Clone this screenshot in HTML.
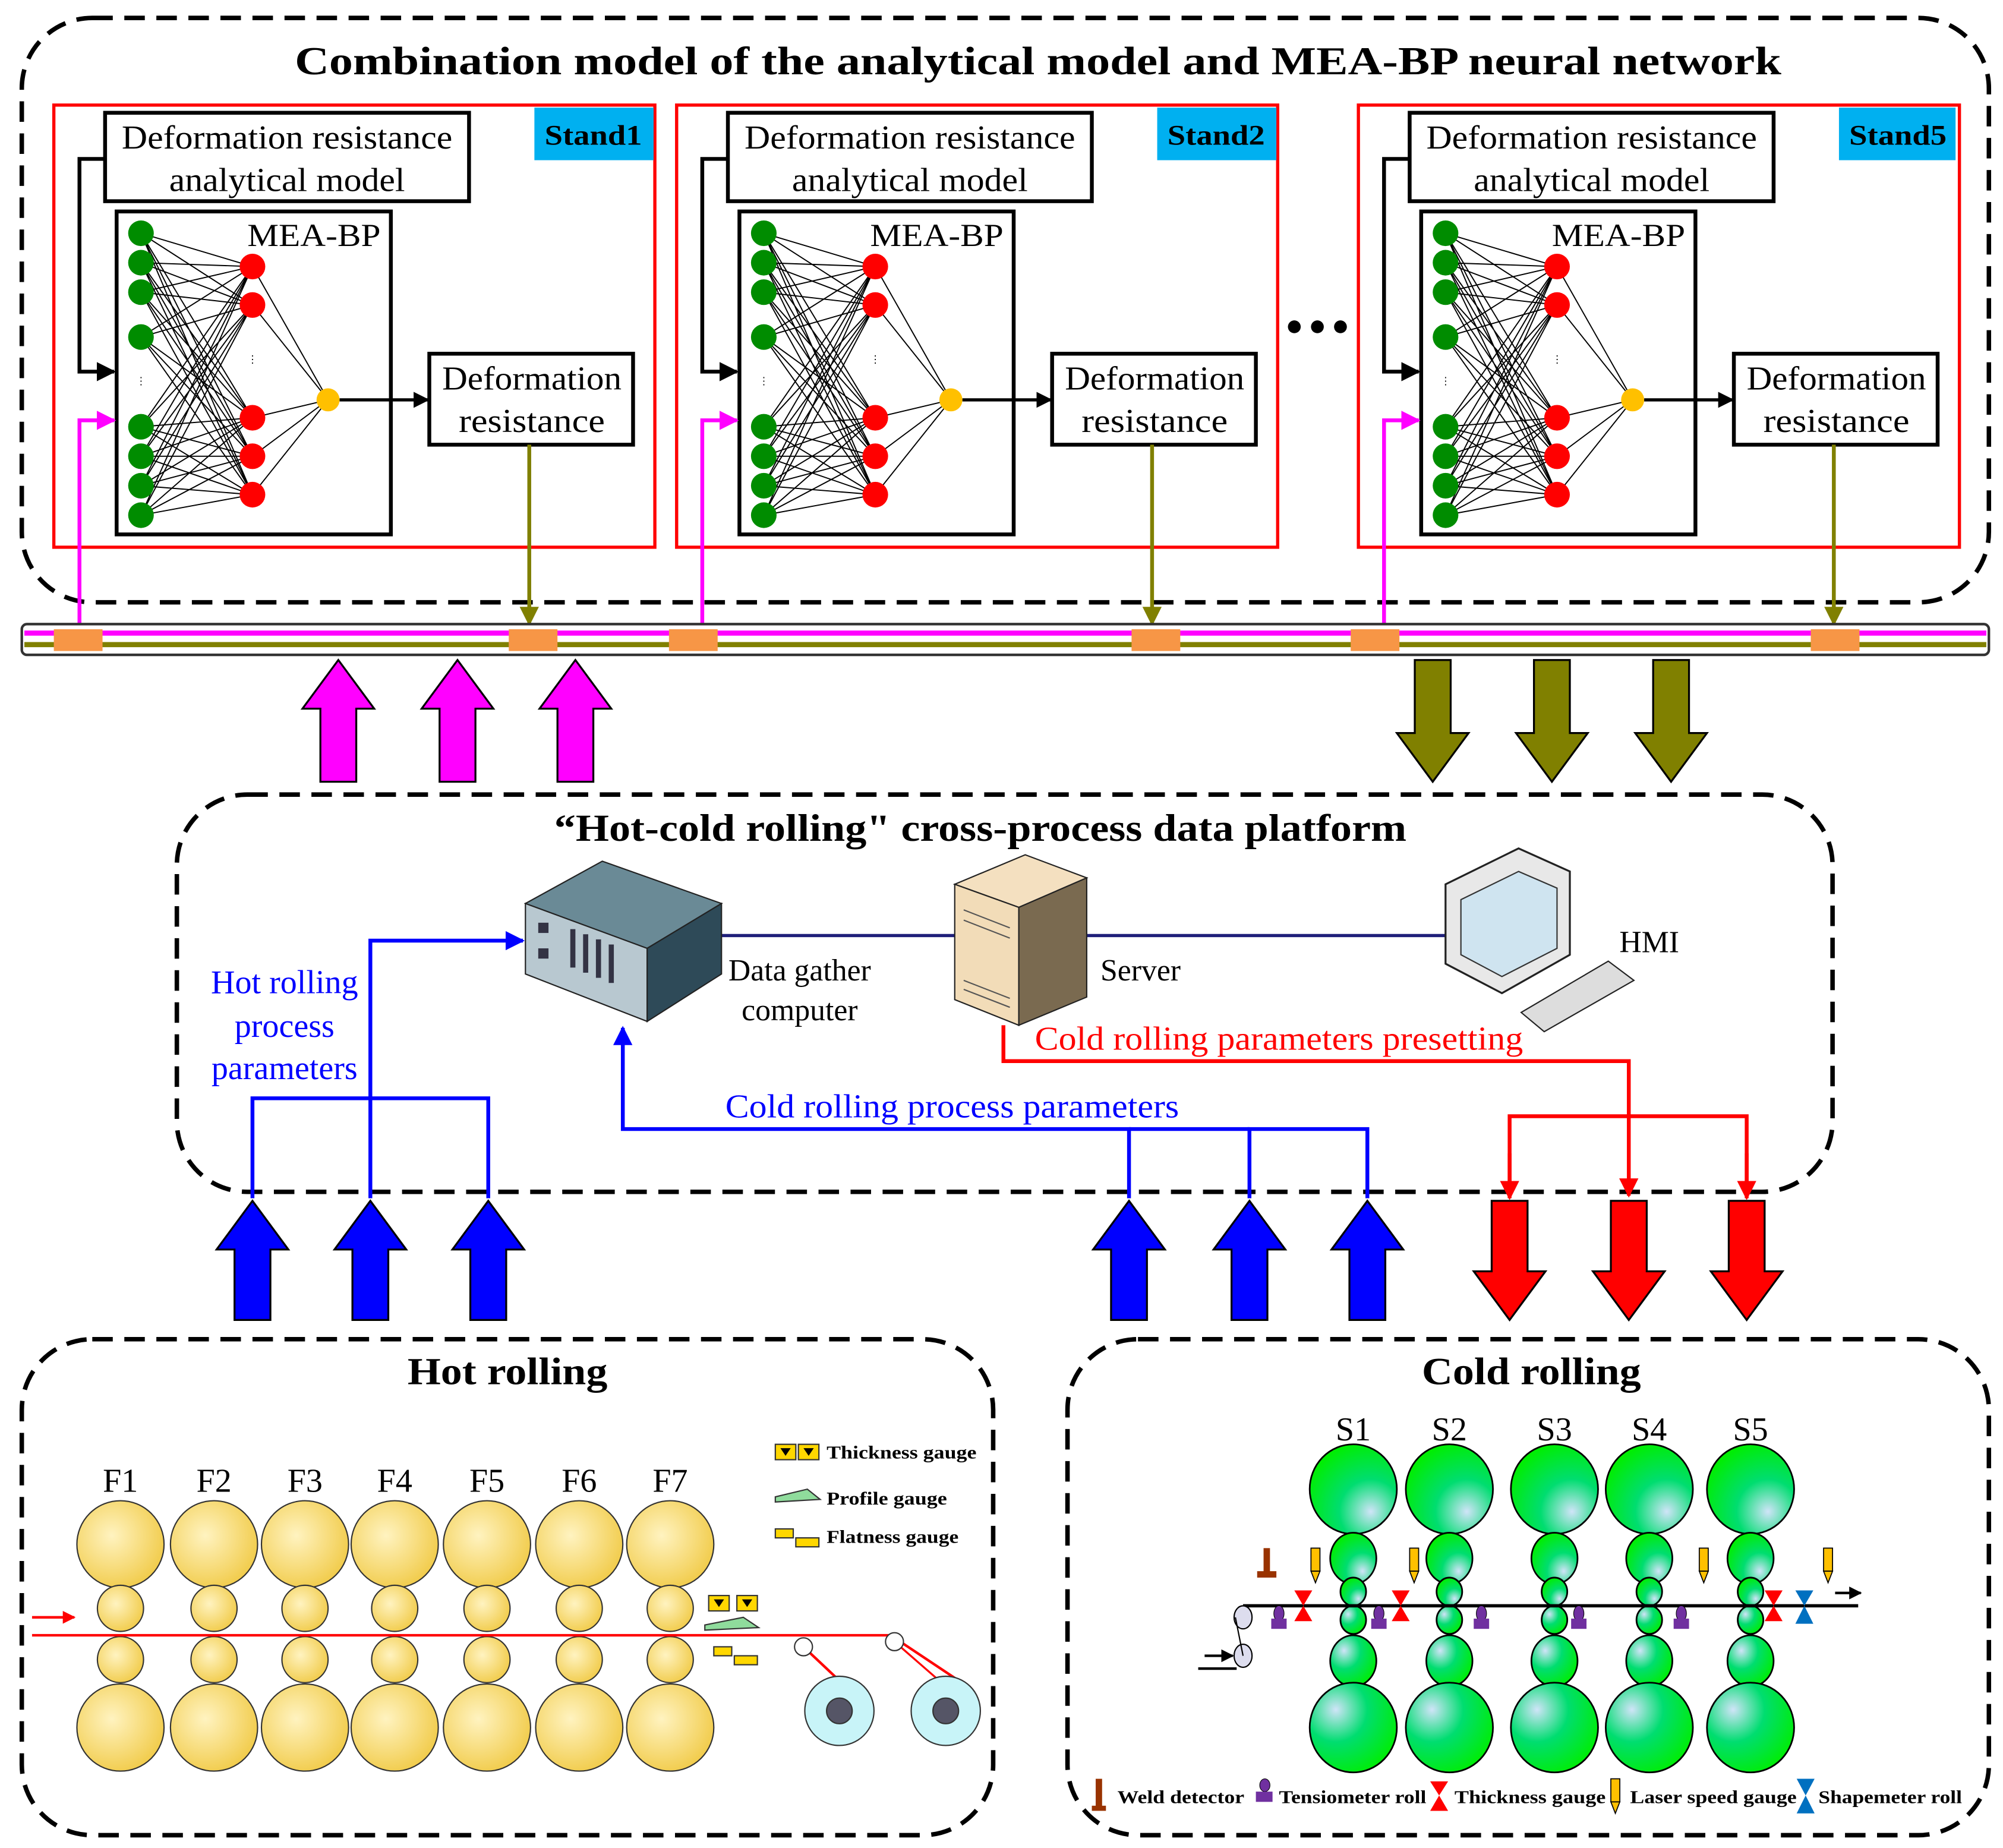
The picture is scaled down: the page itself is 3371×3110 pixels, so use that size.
<!DOCTYPE html>
<html><head><meta charset="utf-8"><style>html,body{margin:0;padding:0;background:#fff}svg{display:block}</style></head><body>
<svg width="3371" height="3110" viewBox="0 0 1563 1442" xmlns="http://www.w3.org/2000/svg" font-family="Liberation Serif, serif">
<defs>
<marker id="ak" viewBox="0 0 10 10" refX="9" refY="5" markerWidth="5" markerHeight="5" orient="auto"><path d="M0,0L10,5L0,10z" fill="#000"/></marker>
<marker id="am" viewBox="0 0 10 10" refX="9" refY="5" markerWidth="5" markerHeight="5" orient="auto"><path d="M0,0L10,5L0,10z" fill="#f0f"/></marker>
<marker id="ao" viewBox="0 0 10 10" refX="9" refY="5" markerWidth="5" markerHeight="5" orient="auto"><path d="M0,0L10,5L0,10z" fill="#808000"/></marker>
<marker id="ab" viewBox="0 0 10 10" refX="9" refY="5" markerWidth="5" markerHeight="5" orient="auto"><path d="M0,0L10,5L0,10z" fill="#00f"/></marker>
<marker id="ar" viewBox="0 0 10 10" refX="9" refY="5" markerWidth="5" markerHeight="5" orient="auto"><path d="M0,0L10,5L0,10z" fill="#f00"/></marker>
<radialGradient id="gy" cx="0.4" cy="0.4" r="0.7"><stop offset="0" stop-color="#fff3c0"/><stop offset="1" stop-color="#f0c840"/></radialGradient>
<radialGradient id="gg" cx="0.7" cy="0.75" r="0.8"><stop offset="0" stop-color="#d0e4f8"/><stop offset="0.45" stop-color="#00dd70"/><stop offset="1" stop-color="#00ee00"/></radialGradient>
<radialGradient id="gg2" cx="0.3" cy="0.3" r="0.8"><stop offset="0" stop-color="#d0e4f8"/><stop offset="0.45" stop-color="#00dd70"/><stop offset="1" stop-color="#00ee00"/></radialGradient>
<g id="stand">
<rect x="42" y="82" width="469" height="345" fill="none" stroke="#f00" stroke-width="2.5"/>
<rect x="82" y="88" width="284" height="69" fill="#fff" stroke="#000" stroke-width="3"/>
<text x="224" y="116" font-size="26" text-anchor="middle" textLength="258" lengthAdjust="spacingAndGlyphs">Deformation resistance</text>
<text x="224" y="149" font-size="26" text-anchor="middle" textLength="184" lengthAdjust="spacingAndGlyphs">analytical model</text>
<rect x="91" y="165" width="214" height="252" fill="#fff" stroke="#000" stroke-width="3"/>
<text x="245" y="192" font-size="25" text-anchor="middle" textLength="104" lengthAdjust="spacingAndGlyphs">MEA-BP</text>
<g stroke="#000" stroke-width="0.9">
<path d="M110,182L197,208M110,182L197,238M110,182L197,326M110,182L197,356M110,182L197,386M110,205L197,208M110,205L197,238M110,205L197,326M110,205L197,356M110,205L197,386M110,228L197,208M110,228L197,238M110,228L197,326M110,228L197,356M110,228L197,386M110,263L197,208M110,263L197,238M110,263L197,326M110,263L197,356M110,263L197,386M110,333L197,208M110,333L197,238M110,333L197,326M110,333L197,356M110,333L197,386M110,356L197,208M110,356L197,238M110,356L197,326M110,356L197,356M110,356L197,386M110,379L197,208M110,379L197,238M110,379L197,326M110,379L197,356M110,379L197,386M110,402L197,208M110,402L197,238M110,402L197,326M110,402L197,356M110,402L197,386M197,208L256,312M197,238L256,312M197,326L256,312M197,356L256,312M197,386L256,312"/>
</g>
<g fill="#008c00"><circle cx="110" cy="182" r="10"/><circle cx="110" cy="205" r="10"/><circle cx="110" cy="228" r="10"/><circle cx="110" cy="263" r="10"/><circle cx="110" cy="333" r="10"/><circle cx="110" cy="356" r="10"/><circle cx="110" cy="379" r="10"/><circle cx="110" cy="402" r="10"/></g>
<g fill="#f00"><circle cx="197" cy="208" r="10"/><circle cx="197" cy="238" r="10"/><circle cx="197" cy="326" r="10"/><circle cx="197" cy="356" r="10"/><circle cx="197" cy="386" r="10"/></g>
<circle cx="256" cy="312" r="9" fill="#ffc000"/>
<text x="110" y="300" font-size="8" text-anchor="middle">⋮</text><text x="197" y="283" font-size="8" text-anchor="middle">⋮</text>
<line x1="265" y1="312" x2="334" y2="312" stroke="#000" stroke-width="2.5" marker-end="url(#ak)"/>
<rect x="335" y="276" width="159" height="71" fill="#fff" stroke="#000" stroke-width="3"/>
<text x="415" y="304" font-size="26" text-anchor="middle" textLength="140" lengthAdjust="spacingAndGlyphs">Deformation</text>
<text x="415" y="337" font-size="26" text-anchor="middle" textLength="114" lengthAdjust="spacingAndGlyphs">resistance</text>
<polyline points="82,124 62,124 62,290 89,290" fill="none" stroke="#000" stroke-width="3" marker-end="url(#ak)"/>
<polyline points="62,490 62,328 89,328" fill="none" stroke="#f0f" stroke-width="3" marker-end="url(#am)"/>
<line x1="413" y1="347" x2="413" y2="487" stroke="#808000" stroke-width="3" marker-end="url(#ao)"/>
</g>
</defs>
<rect x="17" y="14" width="1535" height="456" rx="55" fill="none" stroke="#000" stroke-width="3.5" stroke-dasharray="16,9"/>
<text x="810" y="58" font-size="31" font-weight="bold" text-anchor="middle" textLength="1160" lengthAdjust="spacingAndGlyphs">Combination model of the analytical model and MEA-BP neural network</text>
<use href="#stand"/>
<use href="#stand" x="486"/>
<use href="#stand" x="1018"/>
<rect x="417" y="84" width="93" height="41" fill="#00b0f0"/><text x="463" y="113" font-size="22" font-weight="bold" text-anchor="middle" textLength="76" lengthAdjust="spacingAndGlyphs">Stand1</text>
<rect x="903" y="84" width="93" height="41" fill="#00b0f0"/><text x="949" y="113" font-size="22" font-weight="bold" text-anchor="middle" textLength="76" lengthAdjust="spacingAndGlyphs">Stand2</text>
<rect x="1435" y="84" width="91" height="41" fill="#00b0f0"/><text x="1481" y="113" font-size="22" font-weight="bold" text-anchor="middle" textLength="76" lengthAdjust="spacingAndGlyphs">Stand5</text>
<g fill="#000"><circle cx="1010" cy="255" r="5"/><circle cx="1028" cy="255" r="5"/><circle cx="1046" cy="255" r="5"/></g>
<rect x="17" y="487" width="1535" height="24" rx="4" fill="#fff" stroke="#333" stroke-width="2"/>
<line x1="19" y1="494" x2="1550" y2="494" stroke="#f0f" stroke-width="4"/>
<line x1="19" y1="503" x2="1550" y2="503" stroke="#808000" stroke-width="4"/>
<g fill="#f79646"><rect x="42" y="491" width="38" height="17"/><rect x="397" y="491" width="38" height="17"/><rect x="522" y="491" width="38" height="17"/><rect x="883" y="491" width="38" height="17"/><rect x="1054" y="491" width="38" height="17"/><rect x="1413" y="491" width="38" height="17"/></g>
<g stroke="#000" stroke-width="1.5">
<path fill="#f0f" d="M250,610V553H236L264,515L292,553H278V610Z"/>
<path fill="#f0f" d="M343,610V553H329L357,515L385,553H371V610Z"/>
<path fill="#f0f" d="M435,610V553H421L449,515L477,553H463V610Z"/>
<path fill="#808000" d="M1104,515V572H1090L1118,610L1146,572H1132V515Z"/>
<path fill="#808000" d="M1197,515V572H1183L1211,610L1239,572H1225V515Z"/>
<path fill="#808000" d="M1290,515V572H1276L1304,610L1332,572H1318V515Z"/>
<path fill="#00f" d="M183,1030V975H169L197,937L225,975H211V1030Z"/>
<path fill="#00f" d="M275,1030V975H261L289,937L317,975H303V1030Z"/>
<path fill="#00f" d="M367,1030V975H353L381,937L409,975H395V1030Z"/>
<path fill="#00f" d="M867,1030V975H853L881,937L909,975H895V1030Z"/>
<path fill="#00f" d="M961,1030V975H947L975,937L1003,975H989V1030Z"/>
<path fill="#00f" d="M1053,1030V975H1039L1067,937L1095,975H1081V1030Z"/>
<path fill="#f00" d="M1164,937V992H1150L1178,1030L1206,992H1192V937Z"/>
<path fill="#f00" d="M1257,937V992H1243L1271,1030L1299,992H1285V937Z"/>
<path fill="#f00" d="M1349,937V992H1335L1363,1030L1391,992H1377V937Z"/>
</g>
<rect x="138" y="620" width="1292" height="310" rx="55" fill="none" stroke="#000" stroke-width="3.5" stroke-dasharray="16,9"/>
<text x="765" y="656" font-size="30" font-weight="bold" text-anchor="middle" textLength="665" lengthAdjust="spacingAndGlyphs">“Hot-cold rolling" cross-process data platform</text>
<line x1="563" y1="730" x2="745" y2="730" stroke="#1f1f7a" stroke-width="2.5"/>
<line x1="848" y1="730" x2="1128" y2="730" stroke="#1f1f7a" stroke-width="2.5"/>
<polygon points="410,705 470,672 563,705 505,740" fill="#6a8a96" stroke="#222"/>
<polygon points="410,705 505,740 505,797 410,760" fill="#b8c8d0" stroke="#222"/>
<polygon points="505,740 563,705 563,760 505,797" fill="#2e4a58" stroke="#222"/>
<g fill="#334"><rect x="420" y="720" width="8" height="8"/><rect x="420" y="740" width="8" height="8"/><rect x="445" y="725" width="4" height="30"/><rect x="455" y="729" width="4" height="30"/><rect x="465" y="733" width="4" height="30"/><rect x="475" y="737" width="4" height="30"/></g>
<text x="624" y="765" font-size="24" text-anchor="middle">Data gather</text>
<text x="624" y="796" font-size="24" text-anchor="middle">computer</text>
<polygon points="745,690 800,667 848,685 795,708" fill="#f4e0c0" stroke="#222"/>
<polygon points="745,690 795,708 795,800 745,780" fill="#f2dcb8" stroke="#222"/>
<polygon points="795,708 848,685 848,778 795,800" fill="#7a6a50" stroke="#222"/>
<g stroke="#555"><line x1="752" y1="710" x2="788" y2="724"/><line x1="752" y1="718" x2="788" y2="732"/><line x1="752" y1="765" x2="788" y2="779"/><line x1="752" y1="772" x2="788" y2="786"/></g>
<text x="890" y="765" font-size="24" text-anchor="middle">Server</text>
<polygon points="1128,690 1185,662 1225,680 1225,745 1172,775 1128,752" fill="#e8e8e8" stroke="#222" stroke-width="1.5"/>
<polygon points="1140,702 1185,680 1215,693 1215,740 1172,762 1140,745" fill="#cfe4f0" stroke="#333"/>
<polygon points="1187,790 1255,750 1275,765 1205,805" fill="#ddd" stroke="#222"/>
<text x="1287" y="743" font-size="24" text-anchor="middle">HMI</text>
<text font-size="26" fill="#00f" text-anchor="middle"><tspan x="222" y="775">Hot rolling</tspan><tspan x="222" y="809">process</tspan><tspan x="222" y="842">parameters</tspan></text>
<text x="998" y="819" font-size="26" fill="#f00" text-anchor="middle" textLength="381" lengthAdjust="spacingAndGlyphs">Cold rolling  parameters presetting</text>
<text x="743" y="872" font-size="26" fill="#00f" text-anchor="middle" textLength="354" lengthAdjust="spacingAndGlyphs">Cold rolling  process parameters</text>
<g fill="none" stroke="#00f" stroke-width="3">
<polyline points="197,935 197,857 381,857 381,935"/>
<polyline points="289,935 289,734 408,734" marker-end="url(#ab)"/>
<polyline points="881,935 881,881 486,881 486,802" marker-end="url(#ab)"/>
<polyline points="881,881 975,881"/>
<polyline points="975,935 975,881 1067,881 1067,935"/>
</g>
<g fill="none" stroke="#f00" stroke-width="3">
<polyline points="783,800 783,828 1271,828 1271,933" marker-end="url(#ar)"/>
<polyline points="1178,933 1178,871 1363,871 1363,933"/>
<line x1="1178" y1="900" x2="1178" y2="935" marker-end="url(#ar)"/>
<line x1="1363" y1="900" x2="1363" y2="935" marker-end="url(#ar)"/>
</g>
<rect x="17" y="1045" width="758" height="387" rx="55" fill="none" stroke="#000" stroke-width="3.5" stroke-dasharray="16,9"/>
<text x="396" y="1080" font-size="30" font-weight="bold" text-anchor="middle" textLength="156" lengthAdjust="spacingAndGlyphs">Hot rolling</text>
<g stroke="#333" stroke-width="1" fill="url(#gy)">
<g id="hs"><ellipse cx="94" cy="1205" rx="34" ry="34"/><ellipse cx="94" cy="1255" rx="18" ry="18"/><ellipse cx="94" cy="1295" rx="18" ry="18"/><ellipse cx="94" cy="1348" rx="34" ry="34"/></g>
<use href="#hs" x="73"/><use href="#hs" x="144"/><use href="#hs" x="214"/><use href="#hs" x="286"/><use href="#hs" x="358"/><use href="#hs" x="429"/>
</g>
<g font-size="26" text-anchor="middle"><text x="94" y="1164">F1</text><text x="167" y="1164">F2</text><text x="238" y="1164">F3</text><text x="308" y="1164">F4</text><text x="380" y="1164">F5</text><text x="452" y="1164">F6</text><text x="523" y="1164">F7</text></g>
<polyline points="25,1276 695,1276 758,1318" fill="none" stroke="#f00" stroke-width="2"/>
<polyline points="627,1285 680,1335" fill="none" stroke="#f00" stroke-width="2"/>
<polyline points="698,1281 760,1335" fill="none" stroke="#f00" stroke-width="1.5"/>
<line x1="25" y1="1262" x2="58" y2="1262" stroke="#f00" stroke-width="2" marker-end="url(#ar)"/>
<circle cx="627" cy="1285" r="7" fill="#fff" stroke="#333"/><circle cx="698" cy="1281" r="7" fill="#fff" stroke="#333"/>
<g stroke="#333"><circle cx="655" cy="1335" r="27" fill="#c8f4f8"/><circle cx="655" cy="1335" r="10" fill="#556"/><circle cx="738" cy="1335" r="27" fill="#c8f4f8"/><circle cx="738" cy="1335" r="10" fill="#556"/></g>
<g fill="#ffd700" stroke="#333"><rect x="553" y="1245" width="16" height="12"/><rect x="575" y="1245" width="16" height="12"/><rect x="605" y="1127" width="16" height="12"/><rect x="623" y="1127" width="16" height="12"/><rect x="557" y="1285" width="14" height="7"/><rect x="573" y="1292" width="18" height="7"/><rect x="605" y="1193" width="14" height="7"/><rect x="621" y="1200" width="18" height="7"/></g>
<g fill="#000"><path d="M557,1248L565,1248L561,1254Z"/><path d="M579,1248L587,1248L583,1254Z"/><path d="M609,1130L617,1130L613,1136Z"/><path d="M627,1130L635,1130L631,1136Z"/></g>
<path d="M550,1268L580,1262L592,1270L550,1272Z" fill="#8fdc9c" stroke="#333"/>
<path d="M605,1168L630,1162L640,1170L605,1172Z" fill="#8fdc9c" stroke="#333"/>
<g font-size="14" font-weight="bold"><text x="645" y="1138" textLength="117" lengthAdjust="spacingAndGlyphs">Thickness  gauge</text><text x="645" y="1174" textLength="94" lengthAdjust="spacingAndGlyphs">Profile  gauge</text><text x="645" y="1204" textLength="103" lengthAdjust="spacingAndGlyphs">Flatness  gauge</text></g>
<rect x="833" y="1045" width="719" height="387" rx="55" fill="none" stroke="#000" stroke-width="3.5" stroke-dasharray="16,9"/>
<text x="1195" y="1080" font-size="30" font-weight="bold" text-anchor="middle" textLength="171" lengthAdjust="spacingAndGlyphs">Cold rolling</text>
<g font-size="26" text-anchor="middle"><text x="1056" y="1124">S1</text><text x="1131" y="1124">S2</text><text x="1213" y="1124">S3</text><text x="1287" y="1124">S4</text><text x="1366" y="1124">S5</text></g>
<g stroke="#000" stroke-width="1.3">
<g id="cs"><ellipse cx="1056" cy="1162" rx="34" ry="35" fill="url(#gg)"/><ellipse cx="1056" cy="1216" rx="18" ry="20" fill="url(#gg)"/><ellipse cx="1056" cy="1242" rx="10" ry="11" fill="url(#gg)"/><ellipse cx="1056" cy="1264" rx="10" ry="11" fill="url(#gg2)"/><ellipse cx="1056" cy="1296" rx="18" ry="20" fill="url(#gg2)"/><ellipse cx="1056" cy="1348" rx="34" ry="35" fill="url(#gg2)"/></g>
<use href="#cs" x="75"/><use href="#cs" x="157"/><use href="#cs" x="231"/><use href="#cs" x="310"/>
</g>
<line x1="970" y1="1253" x2="1450" y2="1253" stroke="#000" stroke-width="2.5"/>
<ellipse cx="970" cy="1262" rx="7" ry="9" fill="#dde" stroke="#000"/><ellipse cx="970" cy="1292" rx="7" ry="9" fill="#dde" stroke="#000"/>
<line x1="964" y1="1262" x2="970" y2="1292" stroke="#000"/>
<line x1="935" y1="1302" x2="965" y2="1302" stroke="#000" stroke-width="2"/>
<line x1="940" y1="1292" x2="962" y2="1292" stroke="#000" stroke-width="2" marker-end="url(#ak)"/>
<line x1="1432" y1="1243" x2="1452" y2="1243" stroke="#000" stroke-width="2" marker-end="url(#ak)"/>
<g fill="#993300"><rect x="986" y="1208" width="5" height="22"/><rect x="981" y="1226" width="15" height="5"/></g>
<g id="ls"><rect x="1023" y="1208" width="7" height="18" fill="#ffc000" stroke="#000" stroke-width="0.8"/><path d="M1023,1226L1030,1226L1026.5,1235Z" fill="#ffc000" stroke="#000" stroke-width="0.8"/></g>
<use href="#ls" x="77"/><use href="#ls" x="303"/><use href="#ls" x="400"/>
<g id="tr"><ellipse cx="998" cy="1259" rx="4" ry="6" fill="#7030a0" stroke="#000" stroke-width="0.5"/><rect x="992" y="1263" width="12" height="8" fill="#7030a0"/></g>
<use href="#tr" x="78"/><use href="#tr" x="158"/><use href="#tr" x="234"/><use href="#tr" x="314"/>
<path id="tg" d="M1010,1241L1024,1241L1017,1253L1024,1265L1010,1265L1017,1253Z" fill="#f00"/>
<use href="#tg" x="76"/><use href="#tg" x="367"/>
<path d="M1401,1241L1415,1241L1408,1253L1415,1267L1401,1267L1408,1253Z" fill="#0070c0"/>
<rect x="855" y="1388" width="5" height="24" fill="#993300"/><rect x="852" y="1409" width="11" height="4" fill="#993300"/>
<ellipse cx="987" cy="1393" rx="4" ry="5" fill="#7030a0" stroke="#000" stroke-width="0.5"/><rect x="980" y="1398" width="13" height="8" fill="#7030a0"/>
<path d="M1116,1390L1130,1390L1123,1401L1130,1413L1116,1413L1123,1401Z" fill="#f00"/>
<rect x="1257" y="1388" width="7" height="18" fill="#ffc000" stroke="#000" stroke-width="0.8"/><path d="M1257,1406L1264,1406L1260.5,1415Z" fill="#ffc000" stroke="#000" stroke-width="0.8"/>
<path d="M1402,1388L1416,1388L1409,1401L1416,1415L1402,1415L1409,1401Z" fill="#0070c0"/>
<g font-size="14" font-weight="bold"><text x="872" y="1407" textLength="99" lengthAdjust="spacingAndGlyphs">Weld  detector</text><text x="998" y="1407" textLength="115" lengthAdjust="spacingAndGlyphs">Tensiometer  roll</text><text x="1135" y="1407" textLength="118" lengthAdjust="spacingAndGlyphs">Thickness  gauge</text><text x="1272" y="1407" textLength="130" lengthAdjust="spacingAndGlyphs">Laser  speed  gauge</text><text x="1419" y="1407" textLength="112" lengthAdjust="spacingAndGlyphs">Shapemeter  roll</text></g>
</svg>
</body></html>
